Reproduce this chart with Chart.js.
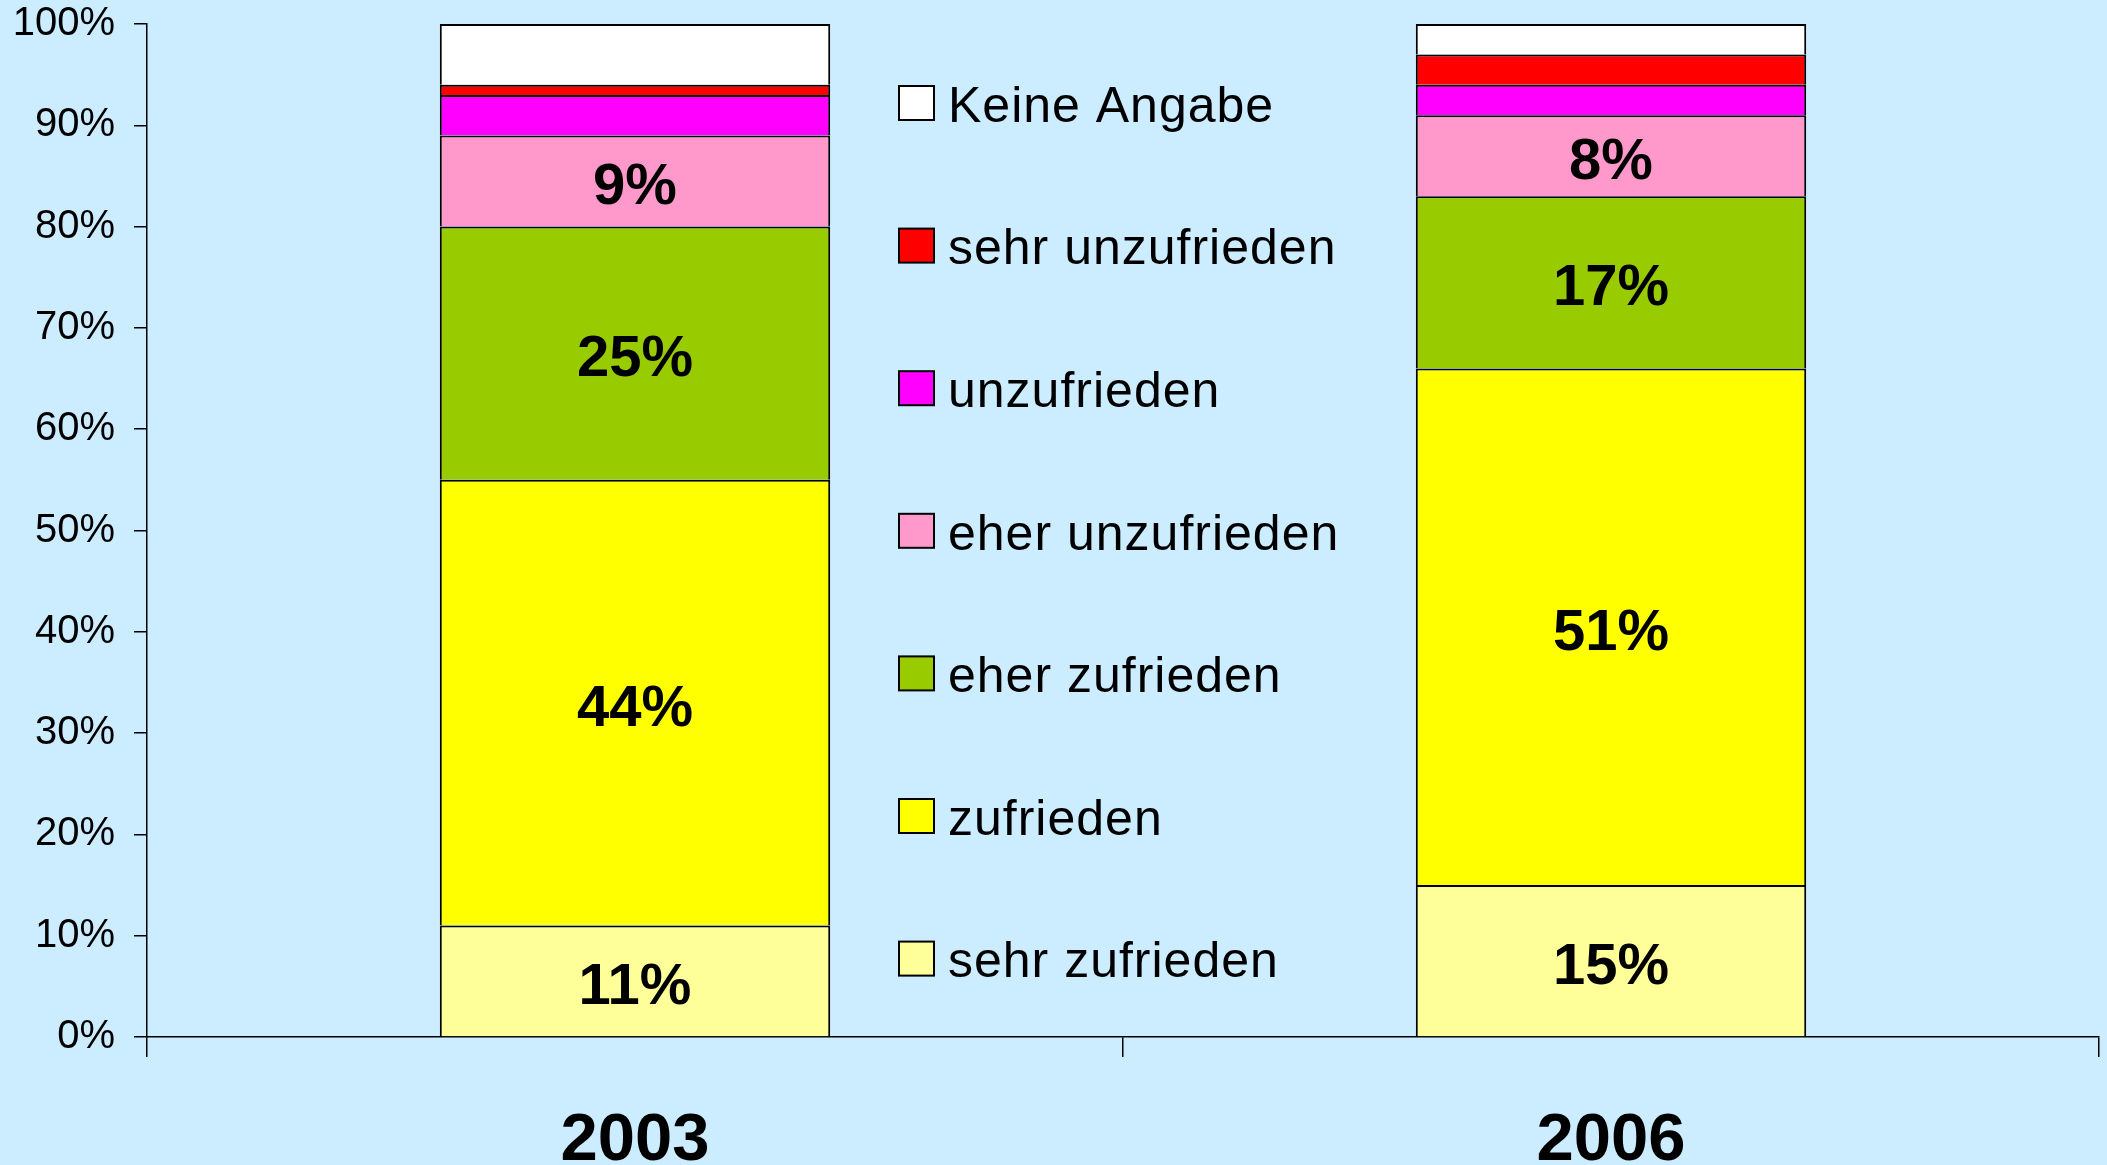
<!DOCTYPE html>
<html>
<head>
<meta charset="utf-8">
<script src="https://cdn.jsdelivr.net/npm/chart.js@4.4.1/dist/chart.umd.min.js"></script>
<style>
  html, body { margin: 0; padding: 0; background: #ccecff; }
  canvas { display: block; }
</style>
</head>
<body>
<canvas id="chart" width="2107" height="1165"></canvas>
<script>
// survey years
const years = ['2003', '2006']

// shares in percent, bottom of stack first
const sehrZufrieden = [11, 15]
const zufrieden = [44, 51]
const eherZufrieden = [25, 17]
const eherUnzufrieden = [9, 8]
const unzufrieden = [4, 3]
const sehrUnzufrieden = [1, 3]
const keineAngabe = [6, 3]

const FONT = '"Liberation Sans", Arial, sans-serif'

// value labels inside the bigger segments
const valueLabels = {
  id: 'valueLabels',
  afterDatasetsDraw(chart) {
    const ctx = chart.ctx
    ctx.save()
    ctx.font = 'bold 58px ' + FONT
    ctx.fillStyle = '#000'
    ctx.textAlign = 'center'
    ctx.textBaseline = 'middle'
    chart.data.datasets.forEach((ds, di) => {
      chart.getDatasetMeta(di).data.forEach((bar, i) => {
        const v = ds.data[i]
        if (v < 8) return
        const { x, y } = bar.getCenterPoint()
        ctx.fillText(v + '%', x, y + 7)
      })
    })
    ctx.restore()
  }
}

// legend sits between the two bars, top item = top of stack
const sideLegend = {
  id: 'sideLegend',
  afterDraw(chart, args, opts) {
    const ctx = chart.ctx
    const items = chart.data.datasets.slice().reverse()
    ctx.save()
    ctx.font = '50px ' + FONT
    ctx.letterSpacing = '1px'
    ctx.textBaseline = 'middle'
    items.forEach((ds, i) => {
      const cy = opts.top + i * opts.spacing
      ctx.fillStyle = ds.backgroundColor
      ctx.fillRect(opts.x, cy - 17, 35, 34)
      ctx.lineWidth = 2
      ctx.strokeStyle = '#000'
      ctx.strokeRect(opts.x, cy - 17, 35, 34)
      ctx.fillStyle = '#000'
      ctx.fillText(ds.label, opts.x + 49, cy + 5)
    })
    ctx.restore()
  }
}

const series = [
  { label: 'sehr zufrieden', data: sehrZufrieden, color: '#ffff99' },
  { label: 'zufrieden', data: zufrieden, color: '#ffff00' },
  { label: 'eher zufrieden', data: eherZufrieden, color: '#99cc00' },
  { label: 'eher unzufrieden', data: eherUnzufrieden, color: '#ff99cc' },
  { label: 'unzufrieden', data: unzufrieden, color: '#ff00ff' },
  { label: 'sehr unzufrieden', data: sehrUnzufrieden, color: '#ff0000' },
  { label: 'Keine Angabe', data: keineAngabe, color: '#ffffff' }
]

new Chart(document.getElementById('chart'), {
  type: 'bar',
  data: {
    labels: years,
    datasets: series.map(s => ({
      label: s.label,
      data: s.data,
      backgroundColor: s.color,
      borderColor: '#000',
      borderWidth: 2,
      barPercentage: 0.4,
      categoryPercentage: 1
    }))
  },
  options: {
    responsive: false,
    animation: false,
    layout: { padding: { top: 24, right: 8, left: 0, bottom: 0 } },
    plugins: {
      legend: { display: false },
      tooltip: { enabled: false },
      sideLegend: { x: 899, top: 103, spacing: 142.6 }
    },
    scales: {
      x: {
        stacked: true,
        grid: {
          display: true,
          drawOnChartArea: false,
          offset: true,
          tickLength: 20,
          color: '#000',
          lineWidth: 1.5
        },
        border: { color: '#000', width: 1.5 },
        ticks: {
          color: '#000',
          padding: 44,
          font: { family: FONT, size: 67, weight: 'bold' }
        },
        afterFit: s => {
          s.height = 128
          s.paddingLeft = 0
          s.paddingRight = 0
        }
      },
      y: {
        stacked: true,
        min: 0,
        max: 100,
        grid: {
          drawOnChartArea: false,
          tickLength: 13,
          color: '#000',
          lineWidth: 1.5
        },
        border: { color: '#000', width: 1.5 },
        ticks: {
          stepSize: 10,
          color: '#000',
          padding: 19,
          font: { family: FONT, size: 40 },
          callback: v => v + '%'
        },
        afterFit: s => {
          s.width = 147
          s.paddingTop = 0
          s.paddingBottom = 0
        }
      }
    }
  },
  plugins: [valueLabels, sideLegend]
})
</script>
</body>
</html>
